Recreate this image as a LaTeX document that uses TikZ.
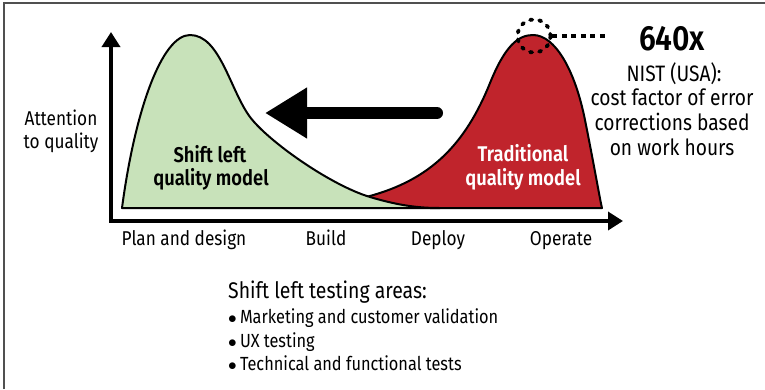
\documentclass[tikz,border=0pt]{standalone}
\usepackage{fontspec}
\setmainfont{Fira Sans}[FakeStretch=0.86]
\newfontfamily\semib{Fira Sans SemiBold}[FakeStretch=0.86]
\usetikzlibrary{arrows.meta}
\definecolor{lgreen}{RGB}{200,226,186}
\definecolor{dred}{RGB}{192,36,44}
\definecolor{framegray}{RGB}{80,80,80}
\newcommand{\mybul}{{\fontsize{17}{17}\selectfont$\bullet$}\,}
\begin{document}
\begin{tikzpicture}[x=1pt,y=-1pt,
  curve/.style={draw=black, line width=2pt, line join=round},
  axis/.style={line width=3.5pt, -{Triangle[length=15pt,width=18pt]}},
  lbl/.style={inner sep=0pt, anchor=base, font=\fontsize{20}{24}\selectfont},
  nist/.style={inner sep=0pt, anchor=base, font=\fontsize{22.3}{24}\selectfont},
  lblw/.style={inner sep=0pt, anchor=base west, font=\fontsize{19}{24}\selectfont},
  bld/.style={inner sep=0pt, anchor=base, font=\semib\fontsize{21.3}{24}\selectfont},
  dots/.style={draw=black, line width=3.8pt, dash pattern=on 2.2pt off 7pt, line cap=round},
  dashline/.style={draw=black, line width=3.3pt, dash pattern=on 5pt off 4.5pt}]
\useasboundingbox (0,0) rectangle (765,389);
% frame
\draw[framegray, line width=1.5pt] (4,389) -- (4,3) -- (765,3);
% red curve
\fill[dred] (368,196.5) .. controls (430,180) and (465,145) .. (490,83)
  .. controls (505,46) and (518,35) .. (533,35)
  .. controls (555,35) and (575,70) .. (585,120)
  .. controls (595,170) and (600,200) .. (602,208) -- (360,208) -- cycle;
\draw[curve] (368,196.5) .. controls (430,180) and (465,145) .. (490,83)
  .. controls (505,46) and (518,35) .. (533,35)
  .. controls (555,35) and (575,70) .. (585,120)
  .. controls (595,170) and (600,200) .. (602,208) -- (430,208);
% green curve
\filldraw[curve, fill=lgreen] (122,208) .. controls (135,110) and (162,35) .. (190,35)
  .. controls (220,35) and (230,90) .. (250,117)
  .. controls (268,141) and (330,185) .. (370,197)
  .. controls (400,206) and (420,208) .. (440,208) -- cycle;
% axes
\coordinate (o) at (111,221);
\coordinate (ytip) at (111,32);
\coordinate (xtip) at (623,221);
\draw[axis] ([yshift=-1.75pt]o) -- (ytip);
\draw[axis] ([xshift=-1.75pt]o) -- (xtip);
% big arrow
\coordinate (abase) at (437,113);
\coordinate (atip) at (265,113);
\draw[line width=12pt, line cap=round, -{Triangle[length=42pt,width=48pt]}] (abase) -- (atip);
% peak circle and dashed leader
\node[dots, circle, minimum size=33pt, inner sep=0pt] (peak) at (534,36) {};
\coordinate (lead) at (608,36);
\draw[dashline] (peak.east) -- (lead);
% labels
\node[lbl] (att1) at (61,125) {Attention};
\node[lbl] (att2) at (61,148) {to quality};
\node[bld] (sl1) at (210,162) {Shift left};
\node[bld] (sl2) at (211,185) {quality model};
\node[bld, text=white] (tr1) at (523,161) {Traditional};
\node[bld, text=white] (tr2) at (523,185) {quality model};
\node[inner sep=0pt, anchor=base, font=\semib\fontsize{35}{38}\selectfont] (x640) at (672,50) {640x};
\node[nist] (n1) at (674,81) {NIST (USA):};
\node[nist] (n2) at (672,105) {cost factor of error};
\node[nist] (n3) at (672,130) {corrections based};
\node[nist] (n4) at (672,155) {on work hours};
\node[lbl] (p1) at (184,245) {Plan and design};
\node[lbl] (p2) at (326,245) {Build};
\node[lbl] (p3) at (438,245) {Deploy};
\node[lbl] (p4) at (561,245) {Operate};
\node[lblw, font=\fontsize{22.6}{28}\selectfont] (h) at (228,298) {Shift left testing areas:};
\node[lblw] (b1) at (228,323) {\mybul Marketing and customer validation};
\node[lblw] (b2) at (228,347) {\mybul UX testing};
\node[lblw] (b3) at (228,370) {\mybul Technical and functional tests};
\end{tikzpicture}
\end{document}
